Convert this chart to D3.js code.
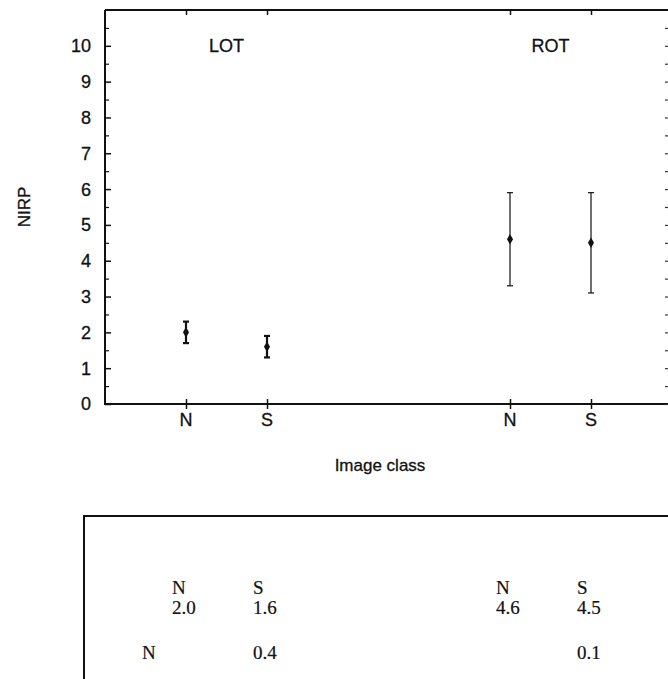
<!DOCTYPE html>
<meta charset="utf-8">
<style>
  body { margin: 0; background: #fff; }
  .lab { font-family: 'Liberation Sans', Arial, sans-serif; font-size: 18px; fill: #111; stroke: #111; stroke-width: 0.3; }
  .tab { font-family: 'Liberation Serif', 'Times New Roman', serif; font-size: 19px; fill: #111; stroke: #111; stroke-width: 0.2; }
</style>
<body>
  <script src="https://d3js.org/d3.v7.min.js"></script>
  <script>
    // image classes, two groups of two
    var slots = ["LOT N", "LOT S", "gap a", "gap b", "ROT N", "ROT S"];
    var groups = ["LOT", "ROT"];
    var points = ["LOT N", "LOT S", "ROT N", "ROT S"];
    var classLabels = ["N", "S", "N", "S"];
    var means = [2.0, 1.6, 4.6, 4.5];
    var lows = [1.7, 1.3, 3.3, 3.1];
    var highs = [2.3, 1.9, 5.9, 5.9];
    var yTicks = [0, 1, 2, 3, 4, 5, 6, 7, 8, 9, 10];
    var yMinor = [0.5, 1.5, 2.5, 3.5, 4.5, 5.5, 6.5, 7.5, 8.5, 9.5, 10.5];

    // table under the chart
    var tableMeans = ["2.0", "1.6", "4.6", "4.5"];
    var tableDiffs = ["0.4", "0.1"];   // under LOT S and ROT S
    var tableRow = "N";

    var width = 668,
      height = 679;

    var svg = d3.select("body").append("svg")
      .attr("width", width)
      .attr("height", height)

    var pLeft = 105, pTop = 10, pBottom = 404, pRight = 669;

    var x = d3.scalePoint()
      .domain(slots)
      .range([186, 591]);

    var y = d3.scaleLinear()
      .domain([0, 11])
      .range([pBottom, pTop]);

    /* frame */
    svg.append("path")
      .attr("d", "M" + pLeft + "," + pTop + "H" + pRight + "M" + pLeft + "," + pTop + "V" + pBottom + "H" + pRight)
      .attr("stroke", "#111")
      .attr("stroke-width", 2)
      .attr("fill", "none")

    /* left axis, ticks inside */
    svg.append("g").attr("transform", "translate(" + pLeft + ",0)")
      .call(d3.axisRight(y).tickValues(yTicks).tickSize(6).tickFormat(""))
      .call(function(g) { g.select(".domain").remove() })
      .selectAll("line").attr("stroke", "#111").attr("stroke-width", 1.5);
    svg.append("g").attr("transform", "translate(" + pLeft + ",0)")
      .call(d3.axisRight(y).tickValues(yMinor).tickSize(4).tickFormat(""))
      .call(function(g) { g.select(".domain").remove() })
      .selectAll("line").attr("stroke", "#111").attr("stroke-width", 1.2);

    svg.selectAll("text.ytick")
      .data(yTicks)
      .enter().append("text")
      .attr("class", "lab ytick")
      .attr("x", pLeft - 14)
      .attr("y", function(d) { return y(d) })
      .attr("dy", "0.36em")
      .attr("text-anchor", "end")
      .text(function(d) { return d })

    /* right axis: only small ticks visible */
    svg.append("g").attr("transform", "translate(" + pRight + ",0)")
      .call(d3.axisLeft(y).tickValues(yTicks.concat(yMinor)).tickSize(4).tickFormat(""))
      .call(function(g) { g.select(".domain").remove() })
      .selectAll("line").attr("stroke", "#333").attr("stroke-width", 1.2);

    /* bottom & top ticks at the classes */
    svg.append("g").attr("transform", "translate(0," + (pBottom + 5) + ")")
      .call(d3.axisTop(x).tickValues(points).tickSize(10).tickFormat(""))
      .call(function(g) { g.select(".domain").remove() })
      .selectAll("line").attr("stroke", "#111").attr("stroke-width", 1.5);
    svg.append("g").attr("transform", "translate(0," + pTop + ")")
      .call(d3.axisBottom(x).tickValues(points).tickSize(5).tickFormat(""))
      .call(function(g) { g.select(".domain").remove() })
      .selectAll("line").attr("stroke", "#111").attr("stroke-width", 1.5);

    svg.selectAll("text.xtick")
      .data(points)
      .enter().append("text")
      .attr("class", "lab xtick")
      .attr("x", function(d) { return x(d) })
      .attr("y", pBottom + 22)
      .attr("text-anchor", "middle")
      .text(function(d, i) { return classLabels[i] })

    /* group names */
    svg.selectAll("text.group")
      .data(groups)
      .enter().append("text")
      .attr("class", "lab group")
      .attr("x", function(d) { return (x(d + " N") + x(d + " S")) / 2 })
      .attr("y", y(10))
      .attr("dy", "0.36em")
      .attr("text-anchor", "middle")
      .text(function(d) { return d })

    /* axis titles */
    svg.append("text")
      .attr("class", "lab")
      .attr("transform", "translate(30," + y(5.5) + ") rotate(-90)")
      .attr("text-anchor", "middle")
      .style("font-size", "17px")
      .text("NIRP")
    svg.append("text")
      .attr("class", "lab")
      .attr("x", 380)
      .attr("y", 471)
      .attr("text-anchor", "middle")
      .style("font-size", "17px")
      .text("Image class")

    /* error bars */
    var bars = svg.selectAll("g.bar")
      .data(points)
      .enter().append("g")
      .attr("class", "bar")
      .attr("stroke", "#111")
      .attr("stroke-width", function(d, i) { return i < 2 ? 2.2 : 1.2 })

    bars.append("line")
      .attr("x1", function(d) { return x(d) })
      .attr("x2", function(d) { return x(d) })
      .attr("y1", function(d, i) { return y(lows[i]) })
      .attr("y2", function(d, i) { return y(highs[i]) })
    bars.append("line")
      .attr("x1", function(d) { return x(d) - 3 })
      .attr("x2", function(d) { return x(d) + 3 })
      .attr("y1", function(d, i) { return y(lows[i]) })
      .attr("y2", function(d, i) { return y(lows[i]) })
    bars.append("line")
      .attr("x1", function(d) { return x(d) - 3 })
      .attr("x2", function(d) { return x(d) + 3 })
      .attr("y1", function(d, i) { return y(highs[i]) })
      .attr("y2", function(d, i) { return y(highs[i]) })
    bars.append("path")
      .attr("d", d3.symbol().type(d3.symbolDiamond).size(32))
      .attr("transform", function(d, i) { return "translate(" + x(d) + "," + y(means[i]) + ")" })
      .attr("fill", "#111")
      .attr("stroke", "none")

    /* table box */
    var tTop = 516, tLeft = 84;
    svg.append("path")
      .attr("d", "M" + tLeft + "," + height + "V" + tTop + "H" + width)
      .attr("stroke", "#111")
      .attr("stroke-width", 2)
      .attr("fill", "none")

    svg.selectAll("text.thead")
      .data(points)
      .enter().append("text")
      .attr("class", "tab thead")
      .attr("x", function(d) { return x(d) - 14 })
      .attr("y", 594)
      .text(function(d, i) { return classLabels[i] })

    svg.selectAll("text.tmean")
      .data(points)
      .enter().append("text")
      .attr("class", "tab tmean")
      .attr("x", function(d) { return x(d) - 14 })
      .attr("y", 614)
      .text(function(d, i) { return tableMeans[i] })

    svg.append("text")
      .attr("class", "tab")
      .attr("x", 142)
      .attr("y", 659)
      .text(tableRow)

    svg.selectAll("text.tdiff")
      .data(["LOT S", "ROT S"])
      .enter().append("text")
      .attr("class", "tab tdiff")
      .attr("x", function(d) { return x(d) - 14 })
      .attr("y", 659)
      .text(function(d, i) { return tableDiffs[i] })
  </script>
</body>
